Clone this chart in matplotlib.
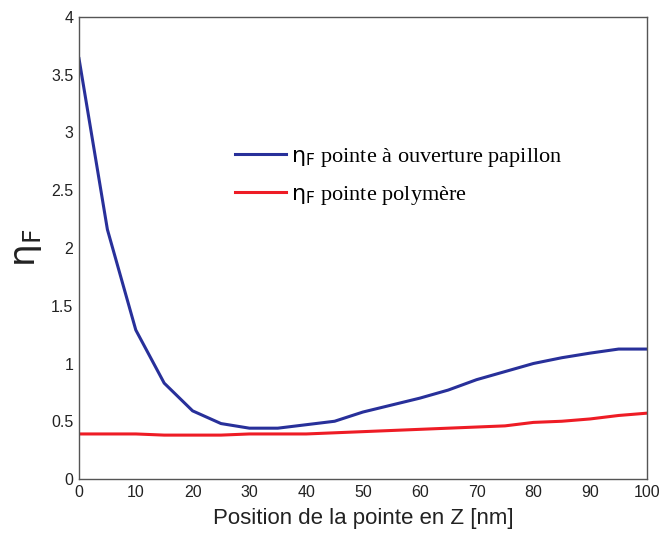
import matplotlib
matplotlib.use("Agg")
import matplotlib.pyplot as plt

z = [0, 5, 10, 15, 20, 25, 30, 35, 40, 45, 50, 55, 60, 65, 70, 75, 80, 85, 90, 95, 100]
eta_papillon = [3.64, 2.16, 1.29, 0.83, 0.59, 0.48, 0.44, 0.44, 0.47, 0.50, 0.58, 0.64, 0.70, 0.77,
                0.86, 0.93, 1.00, 1.05, 1.09, 1.125, 1.125]
eta_polymere = [0.39, 0.39, 0.39, 0.38, 0.38, 0.38, 0.39, 0.39, 0.39, 0.40, 0.41, 0.42, 0.43, 0.44,
                0.45, 0.46, 0.49, 0.50, 0.52, 0.55, 0.57]
labels = [r"$\mathrm{\eta}_{\mathsf{F}}$ pointe à ouverture papillon", r"$\mathrm{\eta}_{\mathsf{F}}$ pointe polymère"]
xticks = list(range(0, 101, 10))
yticks = [0, 0.5, 1, 1.5, 2, 2.5, 3, 3.5, 4]

plt.rcParams['font.family'] = ['Liberation Sans', 'DejaVu Sans']
plt.rcParams['mathtext.fontset'] = 'dejavusans'

fig = plt.figure(figsize=(6.62, 5.41), dpi=100)
ax = fig.add_axes([79/662, 62/541, 568/662, 462/541])
ax.plot(z, eta_papillon, color='#28309a', lw=2.2, label=labels[0])
ax.plot(z, eta_polymere, color='#ee1c25', lw=2.2, label=labels[1])
ax.set_xlim(0, 100)
ax.set_ylim(0, 4)
ax.set_xticks(xticks)
ax.set_yticks(yticks)
ax.set_yticklabels([f"{v:g}" for v in yticks])
ax.tick_params(direction='in', length=0, labelsize=11.5, colors='#222222', pad=4)
for s in ax.spines.values():
    s.set_color('#555555')
    s.set_linewidth(1.0)
ax.set_xlabel("Position de la pointe en Z [nm]", fontsize=16, color='#222222', labelpad=6)
ax.set_ylabel(r"$\mathrm{\eta}_{\mathsf{F}}$", fontsize=26, color='#222222', labelpad=5)
leg = ax.legend(frameon=False, loc='upper left', bbox_to_anchor=(0.24, 0.765),
                prop={'family': ['Liberation Serif', 'DejaVu Serif'], 'size': 16},
                handlelength=2.3, handletextpad=0.2, labelspacing=0.7)
fig.savefig("out.png", dpi=100)
